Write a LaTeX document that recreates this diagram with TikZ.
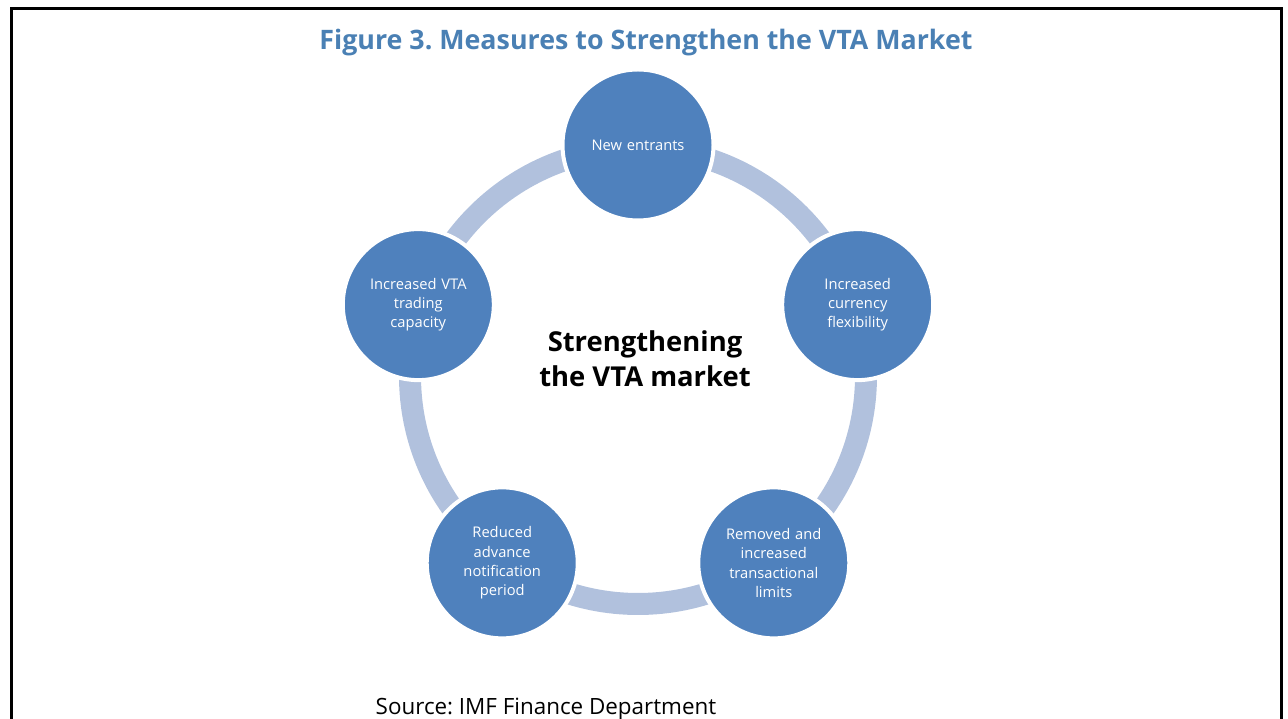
\documentclass[tikz,border=0pt]{standalone}
\usepackage{fontspec}
\setmainfont{Open Sans}
\usepackage{xcolor}
\usepackage{tikz}
\usetikzlibrary{positioning,calc}
\frenchspacing

\definecolor{titleblue}{HTML}{4A80B4}
\definecolor{bubbleblue}{HTML}{4F81BD}
\definecolor{ringblue}{HTML}{B1C1DD}

\tikzset{
  bubble/.style={circle, fill=bubbleblue, draw=white, line width=4pt,
    minimum size=151pt, inner sep=0pt, text width=120pt, align=center,
    text=white, font=\fontsize{14.7}{19.3}\selectfont},
  hubtext/.style={align=center, font=\bfseries\fontsize{27.4}{35}\selectfont}
}

\begin{document}
\begin{tikzpicture}[x=1pt, y=1pt]
        \useasboundingbox (0,0) rectangle (1288,719);

        % Frame
        \draw[line width=3pt] (11,-20) -- (11,710) -- (1281,710) -- (1281,-20);

        % Title
        \node[text=titleblue, font=\bfseries\fontsize{26.8}{31}\selectfont] (title) at (646,676) {Figure 3. Measures to Strengthen the VTA Market};

        % Ring behind the circles
        \coordinate (hub) at (638,343);
        \draw[ringblue, line width=22pt] (hub) circle (228);

        % Measures
        \node[bubble] (entrants) at ([shift={(90:231)}]hub) {New entrants};
        \node[bubble] (currency) at ([shift={(18:231)}]hub) {Increased\\currency\\flexibility};
        \node[bubble] (limits) at ([shift={(-54:231)}]hub) {Removed and\\increased\\transactional\\limits};
        \node[bubble] (notice) at ([shift={(-126:231)}]hub) {Reduced\\advance\\notification\\period};
        \node[bubble] (capacity) at ([shift={(162:231)}]hub) {Increased VTA\\trading\\capacity};

        % Centre label
        \node[hubtext] (core) at (645,360) {Strengthening\\the VTA market};

        % Source
        \node[font=\fontsize{22.4}{26}\selectfont] (source) at (546,10) {Source: IMF Finance Department};
\end{tikzpicture}
\end{document}
